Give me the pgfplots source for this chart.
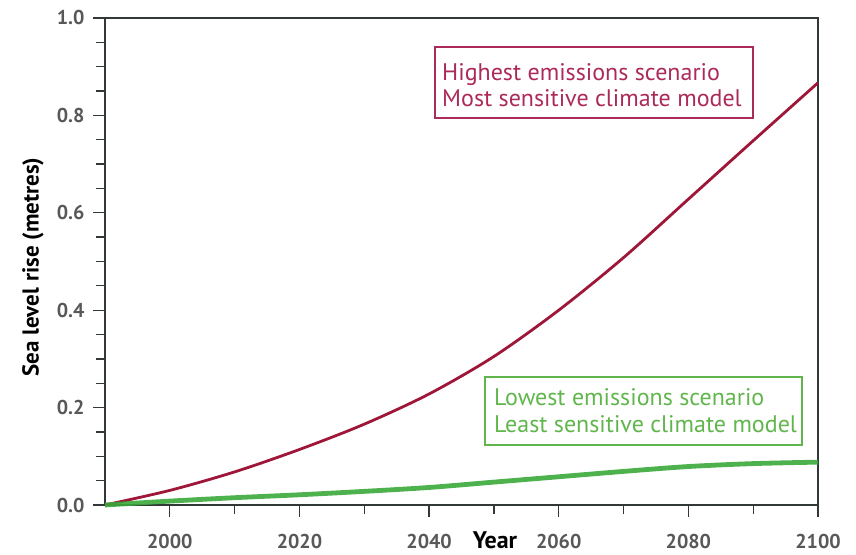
\documentclass[border=0pt]{standalone}
\usepackage{fontspec}
\setmainfont{PT Sans}
\usepackage{pgfplots}
\pgfplotsset{compat=1.18}

\definecolor{hiRed}{RGB}{158,22,56}
\definecolor{hiText}{RGB}{172,42,90}
\definecolor{loGreen}{RGB}{58,168,58}
\definecolor{loText}{RGB}{96,182,76}
\definecolor{tickGray}{RGB}{88,88,88}
\definecolor{axGray}{RGB}{50,56,56}

% sea level rise, metres
\pgfplotstableread{
year  high   low
1990  0.000  0.000
2000  0.030  0.008
2010  0.068  0.015
2020  0.114  0.021
2030  0.166  0.028
2040  0.228  0.036
2050  0.305  0.047
2060  0.400  0.058
2070  0.508  0.069
2080  0.628  0.079
2090  0.748  0.085
2100  0.867  0.088
}\sealevel

\begin{document}
\begin{tikzpicture}[x=1pt,y=1pt]
\useasboundingbox (0,0) rectangle (856,554);
\begin{axis}[
  at={(105pt,49pt)}, anchor=south west,
  scale only axis, width=713pt, height=487pt,
  xmin=1990, xmax=2100, ymin=0, ymax=1,
  xtick={2000,2020,...,2100}, minor x tick num=1,
  ytick={0,0.2,...,1.0}, minor y tick num=3,
  tick align=outside, major tick length=12pt, minor tick length=9pt,
  axis line style={line width=2.2pt, axGray},
  tick style={line width=1.3pt, axGray},
  xtick pos=bottom, ytick pos=left,
  /pgf/number format/assume math mode=true,
  xticklabel style={font=\fontsize{20}{20}\selectfont\bfseries, text=tickGray,
    yshift=-14pt, /pgf/number format/set thousands separator={}},
  yticklabel style={font=\fontsize{20}{20}\selectfont\bfseries, text=tickGray,
    xshift=-5pt, /pgf/number format/.cd, fixed, fixed zerofill, precision=1},
  clip=false,
]
\addplot[hiRed, line width=2.8pt, smooth] table[x=year, y=high] {\sealevel};
\addplot[loGreen, line width=4.8pt, smooth, opacity=0.9] table[x=year, y=low] {\sealevel};
\end{axis}
% axis titles
\node[anchor=base, font=\fontsize{24}{24}\selectfont\bfseries] at (495,6) {Year};
\node[rotate=90, font=\fontsize{23}{23}\selectfont\bfseries] at (33,287) {Sea level rise (metres)};
% scenario boxes
\draw[hiText, line width=1.6pt] (435,507) rectangle (753,436);
\begin{scope}[every node/.style={anchor=base west, inner sep=0pt, text=hiText,
    font=\fontsize{24}{24}\selectfont}]
\node at (442,473) {Highest emissions scenario};
\node at (442,447) {Most sensitive climate model};
\end{scope}
\draw[loText, line width=1.6pt] (485,177) rectangle (802,109);
\begin{scope}[every node/.style={anchor=base west, inner sep=0pt, text=loText,
    font=\fontsize{24}{24}\selectfont}]
\node at (494,148) {Lowest emissions scenario};
\node at (494,121) {Least sensitive climate model};
\end{scope}
\end{tikzpicture}
\end{document}
